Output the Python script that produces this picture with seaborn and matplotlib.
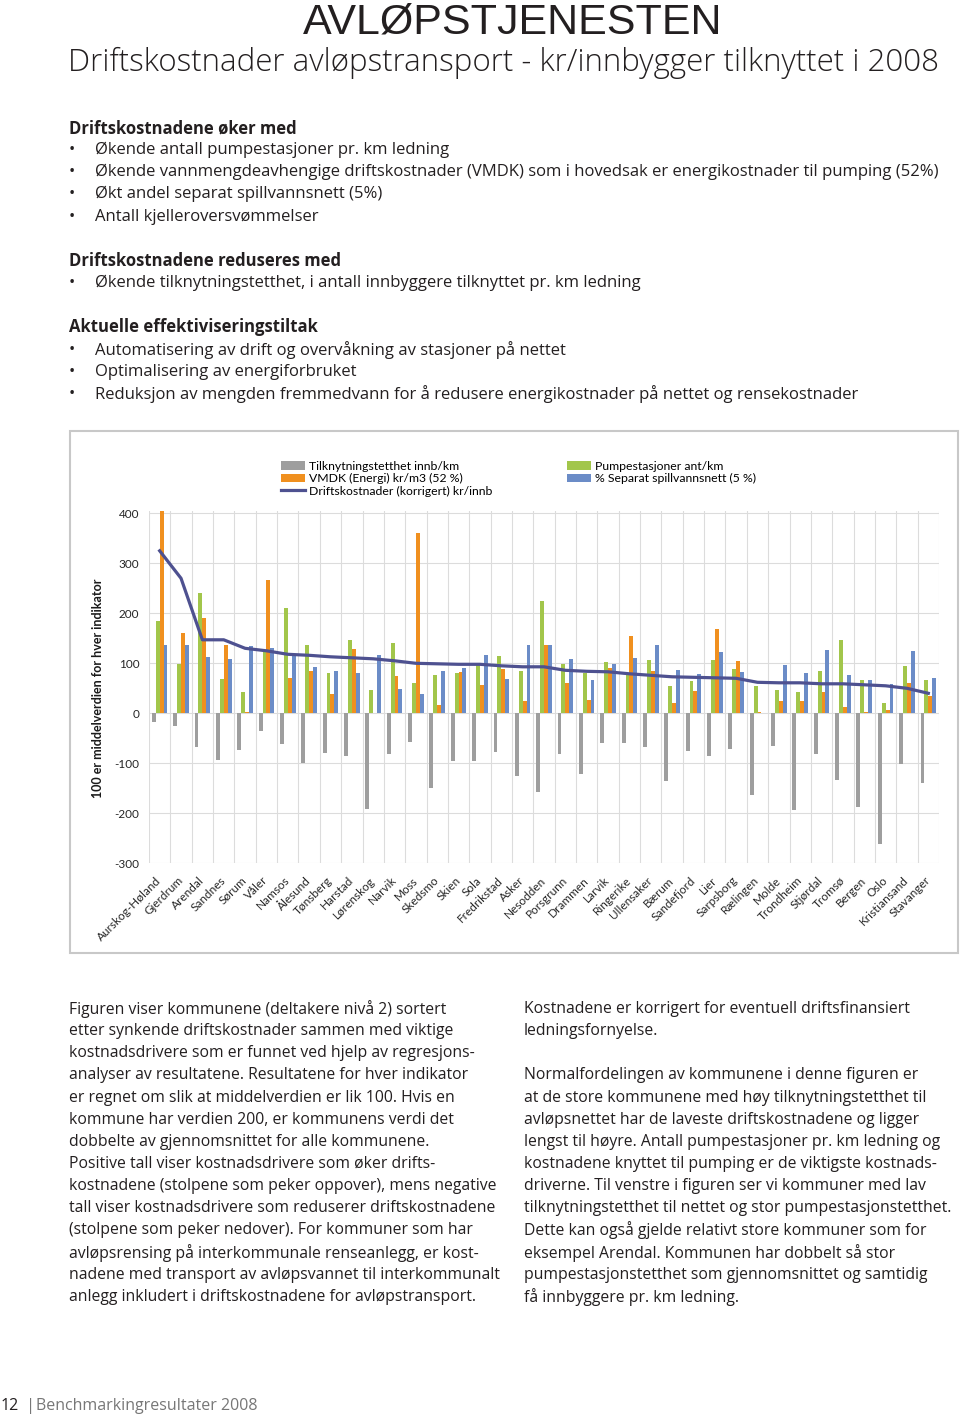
import numpy as np
import pandas as pd
import matplotlib
matplotlib.use("Agg")
import matplotlib.pyplot as plt
import matplotlib.transforms as mtrans
from matplotlib.patches import Patch, Rectangle
from matplotlib.lines import Line2D
import seaborn as sns

# ---------------- data ----------------
kommuner = ["Aurskog-Høland", "Gjerdrum", "Arendal", "Sandnes", "Sørum", "Våler",
            "Namsos", "Ålesund", "Tønsberg", "Harstad", "Lørenskog", "Narvik",
            "Moss", "Skedsmo", "Skien", "Sola", "Fredrikstad", "Asker", "Nesodden",
            "Porsgrunn", "Drammen", "Larvik", "Ringerike", "Ullensaker", "Bærum",
            "Sandefjord", "Lier", "Sarpsborg", "Rælingen", "Molde", "Trondheim",
            "Stjørdal", "Tromsø", "Bergen", "Oslo", "Kristiansand", "Stavanger"]

tilknytning = [-17, -25, -67, -93, -73, -35, -61, -100, -80, -85, -191, -82, -58,
               -150, -95, -95, -77, -125, -158, -82, -121, -60, -59, -67, -135,
               -75, -85, -71, -163, -65, -193, -81, -133, -188, -261, -102, -140]
pumpestasjoner = [185, 99, 241, 68, 42, 123, 211, 137, 81, 146, 47, 141, 60, 77,
                  81, 97, 115, 85, 224, 99, 81, 102, 80, 107, 55, 64, 107, 89, 55,
                  47, 42, 85, 146, 67, 20, 94, 67]
vmdk = [405, 161, 191, 136, 2, 267, 71, 85, 38, 129, 0, 75, 360, 17, 82, 57, 89,
        24, 136, 60, 27, 90, 155, 85, 20, 45, 169, 104, 3, 25, 25, 42, 13, 3, 6,
        61, 35]
separat = [137, 137, 113, 109, 135, 130, 115, 93, 84, 81, 117, 49, 39, 85, 91, 116,
           69, 136, 136, 109, 67, 99, 110, 136, 87, 79, 123, 83, 0, 97, 80, 127,
           76, 67, 59, 125, 71]
driftskostnader = [325, 270, 147, 147, 130, 125, 118, 116, 113, 111, 109, 105, 100,
                   99, 98, 98, 95, 93, 93, 86, 84, 83, 79, 76, 73, 72, 71, 70, 62,
                   61, 61, 59, 59, 57, 55, 50, 40]

s_tilk = "Tilknytningstetthet innb/km"
s_vmdk = "VMDK (Energi) kr/m3 (52 %)"
s_drift = "Driftskostnader (korrigert) kr/innb"
s_pump = "Pumpestasjoner ant/km"
s_sep = "% Separat spillvannsnett (5 %)"

y_ticks = [400, 300, 200, 100, 0, -100, -200, -300]

c_gray = "#9E9E9E"
c_green = "#A2C64B"
c_orange = "#F0901F"
c_blue = "#6B8CC7"
c_line = "#4E5190"

df = pd.DataFrame({
    "kommune": kommuner * 4,
    "serie": [s_tilk] * len(kommuner) + [s_pump] * len(kommuner)
             + [s_vmdk] * len(kommuner) + [s_sep] * len(kommuner),
    "verdi": tilknytning + pumpestasjoner + vmdk + separat,
})

# ---------------- figure ----------------
W, H = 960, 1417
fig = plt.figure(figsize=(W / 100, H / 100), dpi=100)
fig.patch.set_facecolor("white")

def fx(x):
    return x / W

def fy(y):
    return 1 - y / H

body_font = ["Open Sans", "Liberation Sans", "DejaVu Sans"]
chart_font = ["Lato", "DejaVu Sans"]
txt_col = "#231F20"
TOP = 12.0
COL = 11.3

# Title
fig.text(fx(513), fy(23), "AVLØPSTJENESTEN", fontsize=31,
         family=["Liberation Sans Narrow", "Liberation Sans", "DejaVu Sans"],
         ha="center", va="center", color=txt_col)
fig.text(fx(68), fy(63), "Driftskostnader avløpstransport - kr/innbygger tilknyttet i 2008",
         fontsize=22.5, weight="light", family=body_font, ha="left", va="center", color=txt_col)

# Bullet text
lines_top = [
    (128, None, "Driftskostnadene øker med"),
    (150, "•", "Økende antall pumpestasjoner pr. km ledning"),
    (172, "•", "Økende vannmengdeavhengige driftskostnader (VMDK) som i hovedsak er energikostnader til pumping (52%)"),
    (194, "•", "Økt andel separat spillvannsnett (5%)"),
    (217, "•", "Antall kjelleroversvømmelser"),
    (261, None, "Driftskostnadene reduseres med"),
    (283, "•", "Økende tilknytningstetthet, i antall innbyggere tilknyttet pr. km ledning"),
    (327, None, "Aktuelle effektiviseringstiltak"),
    (350, "•", "Automatisering av drift og overvåkning av stasjoner på nettet"),
    (372, "•", "Optimalisering av energiforbruket"),
    (394, "•", "Reduksjon av mengden fremmedvann for å redusere energikostnader på nettet og rensekostnader"),
]
for y, bullet, t in lines_top:
    if bullet is None:
        fig.text(fx(69), fy(y), t, fontsize=TOP, weight="bold", family=body_font,
                 ha="left", va="center", color=txt_col)
    else:
        fig.text(fx(69), fy(y), bullet, fontsize=TOP, family=body_font,
                 ha="left", va="center", color=txt_col)
        fig.text(fx(95), fy(y), t, fontsize=TOP, family=body_font,
                 ha="left", va="center", color=txt_col)

# Chart frame
fig.patches.append(Rectangle((fx(70), fy(953)), fx(958) - fx(70), fy(431) - fy(953),
                             transform=fig.transFigure, fill=False,
                             edgecolor="#C8C8C8", linewidth=1.5))

# Axes
ax_left, ax_right = 149, 939
ax_top, ax_bot = 510.8, 863.3
ax = fig.add_axes([fx(ax_left), fy(ax_bot), fx(ax_right) - fx(ax_left), fy(ax_top) - fy(ax_bot)])

sns.barplot(data=df, x="kommune", y="verdi", hue="serie",
            order=kommuner, hue_order=[s_tilk, s_pump, s_vmdk, s_sep],
            palette=[c_gray, c_green, c_orange, c_blue], saturation=1,
            width=0.73, gap=0, legend=False, ax=ax, errorbar=None, zorder=2)
sns.lineplot(x=np.arange(len(kommuner)), y=driftskostnader, color=c_line,
             linewidth=2.3, ax=ax, zorder=3)

ax.set_xlim(-0.5, len(kommuner) - 0.5)
ax.set_ylim(-300, 405)
ax.set_yticks(y_ticks)
ax.set_yticklabels([str(v) for v in y_ticks], fontsize=8.5, family=chart_font, color="#262626")
ax.set_xticks(range(len(kommuner)))
ax.set_xticklabels(kommuner, rotation=45, ha="right", va="center",
                   rotation_mode="anchor", fontsize=8.5, family=chart_font, color="#262626")
offset = mtrans.ScaledTranslation(-13 / 100, 0, fig.dpi_scale_trans)
for lab in ax.get_xticklabels():
    lab.set_transform(lab.get_transform() + offset)
ax.set_xticks(np.arange(-0.5, len(kommuner), 1), minor=True)
ax.tick_params(axis="both", which="both", length=0)
ax.tick_params(axis="y", pad=7)
ax.tick_params(axis="x", pad=11)
ax.grid(False)
ax.grid(axis="y", which="major", color="#DCDCDC", linewidth=0.8, zorder=0)
ax.grid(axis="x", which="minor", color="#DCDCDC", linewidth=0.8, zorder=0)
ax.set_axisbelow(True)
for sp in ax.spines.values():
    sp.set_visible(False)
ax.set_xlabel("")
ax.set_ylabel("")
ax.set_facecolor("white")

fig.text(fx(98), fy(688), "100 er middelverdien for hver indikator", rotation=90,
         fontsize=9, weight="bold", family=chart_font, ha="center", va="center", color="#1A1A1A")

# Legends
h_left = [Patch(facecolor=c_gray, edgecolor="none"),
          Patch(facecolor=c_orange, edgecolor="none"),
          Line2D([0], [0], color=c_line, linewidth=2.3)]
h_right = [Patch(facecolor=c_green, edgecolor="none"),
           Patch(facecolor=c_blue, edgecolor="none")]
leg_kw = dict(frameon=False, handlelength=2.0, handleheight=0.7,
              handletextpad=0.33, labelspacing=0.1, borderpad=0, borderaxespad=0,
              bbox_transform=fig.transFigure, loc="upper left",
              prop={"family": chart_font, "size": 8.8})
leg1 = ax.legend(h_left, [s_tilk, s_vmdk, s_drift], bbox_to_anchor=(fx(281), fy(461)), **leg_kw)
ax.add_artist(leg1)
leg2 = ax.legend(h_right, [s_pump, s_sep], bbox_to_anchor=(fx(567), fy(461)), **leg_kw)

# Bottom text columns
left_col = [
    "Figuren viser kommunene (deltakere nivå 2) sortert",
    "etter synkende driftskostnader sammen med viktige",
    "kostnadsdrivere som er funnet ved hjelp av regresjons-",
    "analyser av resultatene. Resultatene for hver indikator",
    "er regnet om slik at middelverdien er lik 100. Hvis en",
    "kommune har verdien 200, er kommunens verdi det",
    "dobbelte av gjennomsnittet for alle kommunene.",
    "Positive tall viser kostnadsdrivere som øker drifts-",
    "kostnadene (stolpene som peker oppover), mens negative",
    "tall viser kostnadsdrivere som reduserer driftskostnadene",
    "(stolpene som peker nedover). For kommuner som har",
    "avløpsrensing på interkommunale renseanlegg, er kost-",
    "nadene med transport av avløpsvannet til interkommunalt",
    "anlegg inkludert i driftskostnadene for avløpstransport.",
]
right_col = [
    "Kostnadene er korrigert for eventuell driftsfinansiert",
    "ledningsfornyelse.",
    "",
    "Normalfordelingen av kommunene i denne figuren er",
    "at de store kommunene med høy tilknytningstetthet til",
    "avløpsnettet har de laveste driftskostnadene og ligger",
    "lengst til høyre. Antall pumpestasjoner pr. km ledning og",
    "kostnadene knyttet til pumping er de viktigste kostnads-",
    "driverne. Til venstre i figuren ser vi kommuner med lav",
    "tilknytningstetthet til nettet og stor pumpestasjonstetthet.",
    "Dette kan også gjelde relativt store kommuner som for",
    "eksempel Arendal. Kommunen har dobbelt så stor",
    "pumpestasjonstetthet som gjennomsnittet og samtidig",
    "få innbyggere pr. km ledning.",
]
for i, t in enumerate(left_col):
    fig.text(fx(69), fy(1009 + i * 22.15), t, fontsize=COL, family=body_font,
             ha="left", va="center", color=txt_col)
for i, t in enumerate(right_col):
    if t:
        fig.text(fx(524), fy(1009 + i * 22.15), t, fontsize=COL, family=body_font,
                 ha="left", va="center", color=txt_col)

# Footer
fig.text(fx(1), fy(1406), "12", fontsize=11.5, family=body_font, ha="left", va="center", color="#231F20")
fig.text(fx(26), fy(1406), "|", fontsize=12, family=body_font, ha="left", va="center", color="#777777")
fig.text(fx(36), fy(1406), "Benchmarkingresultater 2008", fontsize=11.5, family=body_font,
         ha="left", va="center", color="#777777")

fig.savefig("out.png", dpi=100, facecolor="white")
